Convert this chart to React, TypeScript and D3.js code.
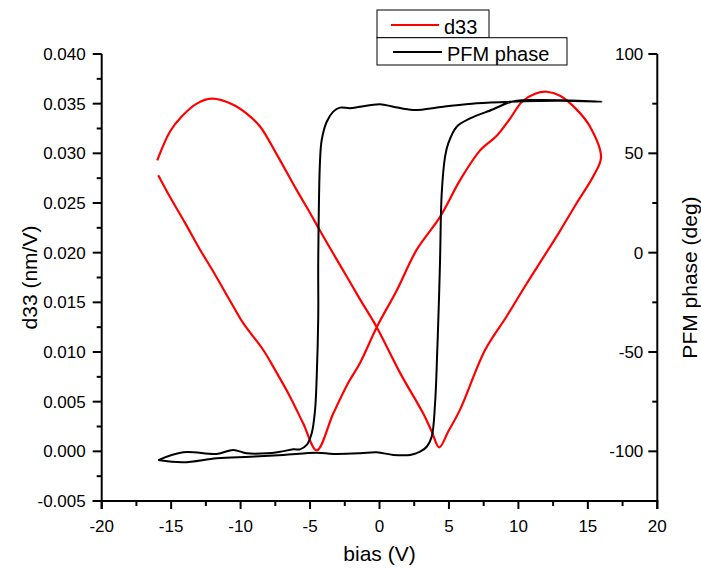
import React from "react";
import * as d3 from "d3";

// ---- data ----
const d33Bias = [
  -15.93, -15.08, -14.0, -12.92, -11.97, -10.53, -9.81, -8.37, -7.52, -6.44, -5.49, -4.52,
  -3.33, -2.25, -1.4, -0.2, 1.24, 2.68, 4.36, 5.8, 7.24, 8.46, 9.4, 10.26, 11.2, 12.04, 13.0, 14.2,
  15.15, 15.95, 15.39, 14.2, 13.0, 11.92, 10.6, 9.16, 7.6, 5.8, 4.95, 4.3, 3.76, 3.15, 1.48, -0.2,
  -1.4, -2.36, -3.2, -4.28, -5.0, -5.96, -7.4, -8.6, -9.56, -10.53, -12.08, -13.16, -14.24, -15.08,
  -16.0,
];
const d33Values = [
  0.0278, 0.0256, 0.023, 0.0203, 0.0181, 0.0146, 0.0129, 0.0102, 0.0082, 0.0055, 0.0028,
  0.0001, 0.0038, 0.0069, 0.0089, 0.0125, 0.0162, 0.0203, 0.0236, 0.0273, 0.0303, 0.0318, 0.0335,
  0.0352, 0.036, 0.0362, 0.0358, 0.0344, 0.0327, 0.0296, 0.0277, 0.025, 0.0222, 0.0198, 0.0169,
  0.0136, 0.0102, 0.0042, 0.002, 0.0004, 0.002, 0.0038, 0.0079, 0.0125, 0.0153, 0.0176, 0.0196,
  0.0222, 0.024, 0.0263, 0.0299, 0.0327, 0.034, 0.0349, 0.0355, 0.035, 0.0337, 0.0322, 0.0293,
];
const phaseBias = [
  -15.93, -14.13, -11.72, -9.32, -6.93, -4.52, -3.33, -1.4, -0.2, 0.99, 2.2, 2.92, 3.4, 3.76, 4.0,
  4.16, 4.28, 4.36, 4.48, 4.72, 4.95, 5.56, 6.52, 8.19, 9.16, 9.88, 11.07, 13.72, 16.0, 13.0, 9.4,
  7.0, 4.59, 2.43, 0.99, 0.04, -1.4, -2.12, -2.84, -3.33, -3.8, -4.16, -4.28, -4.41, -4.41, -4.52,
  -4.64, -4.88, -5.24, -5.72, -6.2, -7.16, -8.12, -9.56, -10.53, -11.72, -14.13, -15.93,
];
const phaseValues = [
  -104.4, -105.5, -103.5, -102.7, -101.8, -100.7, -101.3, -101.0, -100.5, -101.8, -101.8, -100.2,
  -97.7, -92.6, -75.8, -49.0, -23.8, -3.7, 29.9, 48.3, 55.0, 63.4, 67.6, 72.2, 75.2, 76.5, 76.8,
  76.6, 76.0, 76.5, 76.0, 75.2, 73.5, 71.8, 73.5, 74.7, 73.5, 72.7, 73.0, 71.0, 65.9, 56.7, 46.6,
  -3.7, -32.2, -62.4, -79.2, -90.9, -96.8, -99.0, -99.0, -100.2, -101.0, -101.0, -99.3, -101.3,
  -100.5, -104.4,
];

const xTicks = [-20, -15, -10, -5, 0, 5, 10, 15, 20];
const xMinorTicks = [-17.5, -12.5, -7.5, -2.5, 2.5, 7.5, 12.5, 17.5];
const leftTicks = [-0.005, 0, 0.005, 0.01, 0.015, 0.02, 0.025, 0.03, 0.035, 0.04];
const leftMinorTicks = [-0.0025, 0.0025, 0.0075, 0.0125, 0.0175, 0.0225, 0.0275, 0.0325, 0.0375];
const rightTicks = [-100, -50, 0, 50, 100];
const rightMinorTicks = [-75, -25, 25, 75];

const seriesNames = ["d33", "PFM phase"];
const xTitle = "bias (V)";
const leftTitle = "d33 (nm/V)";
const rightTitle = "PFM phase (deg)";

const W = 701;
const H = 572;
const L = 101.7;
const R = 657.3;
const T = 54;
const B = 501;
const FONT = "'Liberation Sans', Arial, Helvetica, sans-serif";

export default function App() {
  const x = d3.scaleLinear().domain([-20, 20]).range([L, R]);
  const yL = d3.scaleLinear().domain([-0.005, 0.04]).range([B, T]);
  const yR = d3.scaleLinear().domain([-125, 100]).range([B, T]);

  const redPts: [number, number][] = d33Bias.map((v, i) => [v, d33Values[i]]);
  const blackPts: [number, number][] = phaseBias.map((v, i) => [v, phaseValues[i]]);

  const redLine = d3
    .line<[number, number]>()
    .x((d) => x(d[0]))
    .y((d) => yL(d[1]))
    .curve(d3.curveCatmullRom.alpha(0.5));
  const blackLine = d3
    .line<[number, number]>()
    .x((d) => x(d[0]))
    .y((d) => yR(d[1]))
    .curve(d3.curveCatmullRom.alpha(0.5));

  const tickFs = 17;
  const titleFs = 21;
  const legFs = 20;

  return (
    <svg
      width={W}
      height={H}
      style={{ position: "absolute", left: 0, top: 0, background: "#fff" }}
      fontFamily={FONT}
    >
      <rect x={0} y={0} width={W} height={H} fill="#fff" />
      {/* curves */}
      <path d={redLine(redPts) || ""} fill="none" stroke="#ff0000" strokeWidth={2.2} strokeLinejoin="round" />
      <path d={blackLine(blackPts) || ""} fill="none" stroke="#000" strokeWidth={2} strokeLinejoin="round" />

      {/* axes lines */}
      <line x1={L} x2={L} y1={T} y2={B + 8} stroke="#000" strokeWidth={2} />
      <line x1={R} x2={R} y1={T} y2={B + 8} stroke="#000" strokeWidth={2} />
      <line x1={L - 9} x2={R + 1} y1={B} y2={B} stroke="#000" strokeWidth={2} />

      {/* bottom ticks */}
      {xTicks.map((t) => (
        <g key={"xt" + t}>
          <line x1={x(t)} x2={x(t)} y1={B} y2={B + 8} stroke="#000" strokeWidth={2} />
          <text x={x(t)} y={B + 31} fontSize={tickFs} textAnchor="middle" fill="#000">
            {t}
          </text>
        </g>
      ))}
      {xMinorTicks.map((t) => (
        <line key={"xm" + t} x1={x(t)} x2={x(t)} y1={B} y2={B + 5} stroke="#000" strokeWidth={2} />
      ))}

      {/* left ticks */}
      {leftTicks.map((t) => (
        <g key={"lt" + t}>
          <line x1={L - 9} x2={L} y1={yL(t)} y2={yL(t)} stroke="#000" strokeWidth={2} />
          <text x={L - 16} y={yL(t) + 6} fontSize={tickFs} textAnchor="end" fill="#000">
            {t.toFixed(3)}
          </text>
        </g>
      ))}
      {leftMinorTicks.map((t) => (
        <line key={"lm" + t} x1={L - 5} x2={L} y1={yL(t)} y2={yL(t)} stroke="#000" strokeWidth={2} />
      ))}

      {/* right ticks (inside) */}
      {rightTicks.map((t) => (
        <g key={"rt" + t}>
          <line x1={R - 9} x2={R} y1={yR(t)} y2={yR(t)} stroke="#000" strokeWidth={2} />
          <text x={R - 14} y={yR(t) + 6} fontSize={tickFs} textAnchor="end" fill="#000">
            {t}
          </text>
        </g>
      ))}
      {rightMinorTicks.map((t) => (
        <line key={"rm" + t} x1={R - 5} x2={R} y1={yR(t)} y2={yR(t)} stroke="#000" strokeWidth={2} />
      ))}

      {/* axis titles */}
      <text x={(L + R) / 2} y={561} fontSize={titleFs} textAnchor="middle" fill="#000">
        {xTitle}
      </text>
      <text
        transform={`translate(37,${(T + B) / 2}) rotate(-90)`}
        fontSize={titleFs}
        textAnchor="middle"
        fill="#000"
      >
        {leftTitle}
      </text>
      <text
        transform={`translate(697,${(T + B) / 2}) rotate(-90)`}
        fontSize={titleFs}
        textAnchor="middle"
        fill="#000"
      >
        {rightTitle}
      </text>

      {/* legend */}
      <rect x={377} y={10} width={112} height={27.7} fill="#fff" stroke="#000" strokeWidth={1} />
      <rect x={377} y={37.7} width={190} height={27.3} fill="#fff" stroke="#000" strokeWidth={1} />
      <line x1={391} x2={439} y1={25} y2={25} stroke="#ff0000" strokeWidth={2} />
      <text x={444} y={34} fontSize={legFs} fill="#000">
        {seriesNames[0]}
      </text>
      <line x1={393} x2={442} y1={52} y2={52} stroke="#000" strokeWidth={2} />
      <text x={447} y={60.5} fontSize={legFs} fill="#000">
        {seriesNames[1]}
      </text>
    </svg>
  );
}
